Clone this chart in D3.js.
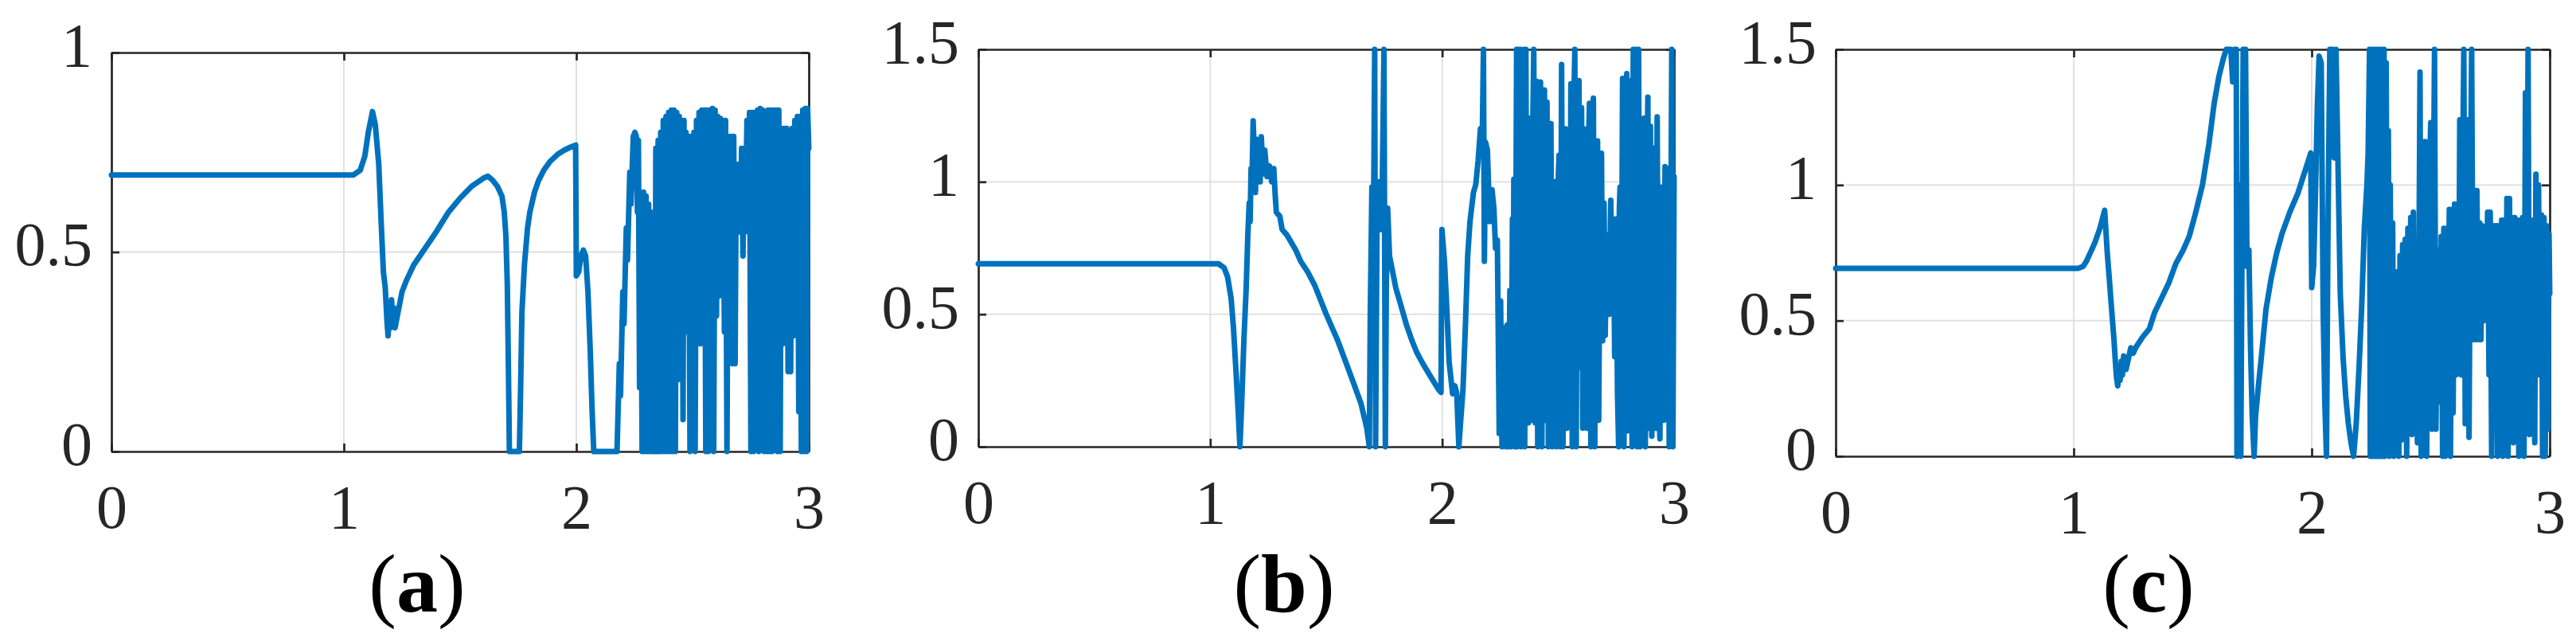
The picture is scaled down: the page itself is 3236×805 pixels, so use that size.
<!DOCTYPE html>
<html><head><meta charset="utf-8">
<script src="https://cdn.jsdelivr.net/npm/d3@7"></script>
<style>html,body{margin:0;padding:0;background:#fff;}</style>
</head><body>
<script>
// ---------- data ----------
const xTicks = [0, 1, 2, 3];
const yTicksA = [0, 0.5, 1];
const yTicksB = [0, 0.5, 1, 1.5];
const yTicksC = [0, 0.5, 1, 1.5];
const panelLabels = ["a", "b", "c"];

const seriesA = [
[0,0.693],[1.04,0.693],[1.07,0.705],[1.09,0.74],[1.105,0.8],[1.123,0.852],[1.135,0.82],[1.15,0.72],[1.16,0.58],[1.17,0.45],[1.178,0.41],[1.185,0.33],[1.19,0.29],[1.195,0.33],[1.2,0.31],[1.205,0.38],[1.21,0.33],[1.215,0.36],[1.22,0.31],[1.23,0.34],[1.24,0.37],[1.25,0.4],[1.27,0.43],[1.3,0.467],[1.35,0.51],[1.4,0.553],[1.45,0.6],[1.5,0.635],[1.55,0.665],[1.6,0.685],[1.62,0.69],[1.64,0.68],[1.66,0.665],[1.68,0.64],[1.69,0.6],[1.697,0.54],[1.703,0.42],[1.708,0.2],[1.712,0],[1.755,0],[1.76,0.15],[1.766,0.35],[1.777,0.47],[1.79,0.56],[1.8,0.6],[1.82,0.65],[1.838,0.68],[1.86,0.705],[1.887,0.727],[1.92,0.745],[1.947,0.755],[1.975,0.763],[1.997,0.768],[2.0,0.44],[2.01,0.45],[2.02,0.49],[2.03,0.505],[2.04,0.49],[2.05,0.4],[2.06,0.25],[2.068,0.1],[2.075,0],[2.175,0],
[2.185,0.22],[2.19,0.14],[2.2,0.4],[2.205,0.32],[2.215,0.56],[2.22,0.48],[2.23,0.7],[2.235,0.62],[2.245,0.79],[2.252,0.8],[2.258,0.79],[2.263,0.6],[2.267,0.78],[2.272,0.16],[2.277,0.64],[2.283,0],[2.289,0.65],[2.295,0],[2.3,0.64],[2.306,0],[2.311,0.62],[2.317,0],[2.322,0.6],[2.328,0],[2.333,0.45],[2.338,0],[2.342,0.76],[2.347,0],[2.352,0.78],[2.357,0],[2.363,0.8],[2.368,0],[2.374,0.83],[2.379,0],[2.386,0.84],[2.391,0],[2.397,0.85],[2.403,0],[2.409,0.856],[2.414,0],[2.42,0.856],[2.426,0],[2.432,0.85],[2.437,0.18],[2.443,0.84],[2.449,0.4],[2.454,0.83],[2.459,0.08],[2.463,0.83],[2.468,0.5],[2.472,0.8],[2.477,0.3],[2.483,0.79],[2.489,0],[2.494,0.79],[2.5,0.4],[2.506,0.8],[2.511,0],[2.517,0.83],[2.523,0.5],[2.528,0.85],[2.534,0.27],[2.54,0.856],[2.546,0.5],[2.551,0.856],[2.557,0],[2.562,0.856],[2.568,0],[2.574,0.856],[2.58,0.45],[2.586,0.86],[2.591,0],[2.597,0.856],[2.603,0.34],[2.608,0.84],[2.614,0.39],[2.62,0.835],[2.626,0.5],[2.631,0.83],[2.637,0.3],[2.642,0.83],[2.648,0],[2.654,0.79],[2.66,0.45],[2.665,0.79],[2.671,0.22],[2.677,0.79],[2.683,0.22],[2.688,0.72],[2.694,0.55],[2.7,0.72],[2.706,0.55],[2.711,0.76],[2.717,0.49],[2.722,0.76],[2.728,0.6],[2.734,0.83],[2.74,0.55],[2.745,0.85],[2.751,0],[2.757,0.85],[2.763,0],[2.768,0.85],[2.774,0.5],[2.78,0.856],[2.785,0],[2.791,0.86],[2.797,0.14],[2.802,0.856],[2.808,0],[2.814,0.83],[2.82,0],[2.825,0.856],[2.831,0],[2.837,0.856],[2.842,0],[2.848,0.856],[2.854,0.4],[2.86,0.856],[2.865,0],[2.871,0.856],[2.877,0],[2.882,0.81],[2.888,0.27],[2.894,0.81],[2.9,0.45],[2.905,0.81],[2.911,0.2],[2.916,0.79],[2.922,0.2],[2.928,0.81],[2.934,0.29],[2.94,0.83],[2.945,0.5],[2.951,0.84],[2.957,0.1],[2.962,0.84],[2.968,0],[2.974,0.856],[2.979,0],[2.985,0.86],[2.991,0],[2.995,0.86],[3.0,0.76]
];

const seriesB = [
[0,0.691],[1.035,0.691],[1.06,0.675],[1.075,0.64],[1.09,0.56],[1.1,0.45],[1.11,0.3],[1.12,0.14],[1.128,0],[1.135,0.15],[1.145,0.4],[1.155,0.6],[1.162,0.8],[1.168,0.92],[1.172,0.85],[1.176,1.05],[1.18,1.0],[1.185,1.23],[1.19,1.1],[1.195,0.96],[1.2,1.16],[1.205,1.05],[1.21,1.15],[1.215,1.0],[1.22,1.17],[1.228,1.03],[1.235,1.12],[1.245,1.02],[1.255,1.06],[1.265,1.0],[1.274,1.05],[1.28,0.95],[1.285,0.885],[1.3,0.87],[1.31,0.82],[1.33,0.8],[1.35,0.77],[1.37,0.74],[1.39,0.7],[1.42,0.66],[1.45,0.61],[1.5,0.5],[1.55,0.4],[1.58,0.33],[1.62,0.235],[1.65,0.163],[1.675,0.07],[1.686,0],
[1.69,0.5],[1.697,0.98],[1.703,0.7],[1.709,1.5],[1.713,0],[1.72,0.98],[1.727,1.0],[1.735,0.82],[1.742,1.0],[1.749,1.5],[1.755,0],[1.759,0.6],[1.765,0.9],[1.773,0.72],[1.8,0.6],[1.82,0.54],[1.846,0.46],[1.87,0.4],[1.89,0.357],[1.915,0.316],[1.95,0.265],[1.985,0.215],[1.995,0.205],[1.999,0.82],[2.01,0.7],[2.02,0.52],[2.03,0.32],[2.045,0.2],[2.055,0.23],[2.063,0.2],[2.072,0],[2.08,0.1],[2.09,0.22],[2.1,0.45],[2.11,0.72],[2.12,0.85],[2.135,0.96],[2.145,0.99],[2.155,1.08],[2.165,1.2],[2.172,1.1],[2.178,1.5],[2.182,0.7],[2.187,1.15],[2.195,1.12],[2.205,0.85],[2.215,0.97],[2.223,0.9],[2.23,0.75],[2.238,0.78],[2.246,0.05],
[2.252,0.55],[2.258,0],[2.266,0.45],[2.275,0],[2.281,0.46],[2.286,0],[2.292,0.59],[2.297,0],[2.303,0.86],[2.306,0.2],[2.309,1.01],[2.314,0],[2.321,1.5],[2.324,0],[2.328,1.5],[2.332,0.3],[2.336,1.5],[2.34,0],[2.344,1.2],[2.348,0.1],[2.352,1.5],[2.356,0],[2.361,1.5],[2.366,0.3],[2.372,0.09],[2.378,1.24],[2.383,0.1],[2.389,1.1],[2.395,1.5],[2.401,0.09],[2.407,1.38],[2.412,0],[2.418,1.0],[2.424,1.377],[2.43,0],[2.436,1.2],[2.441,1.347],[2.447,0.1],[2.452,1.301],[2.458,0],[2.463,1.1],[2.469,1.22],[2.475,0],[2.481,0.9],[2.487,1.0],[2.492,0],[2.498,0.95],[2.504,1.1],[2.509,0],[2.515,1.443],[2.521,0],[2.526,1.0],[2.532,1.2],[2.538,0.07],[2.544,1.1],[2.55,0.3],[2.555,1.37],[2.561,0],[2.566,1.2],[2.572,1.5],[2.578,0],[2.584,1.2],[2.59,1.382],[2.596,0.3],[2.601,1.28],[2.606,0.07],[2.612,1.2],[2.618,1.174],[2.624,0.07],[2.63,1.1],[2.635,1.296],[2.641,0],[2.647,1.2],[2.652,1.316],[2.658,0],[2.664,1.0],[2.67,1.154],[2.675,0.1],[2.681,0.9],[2.687,1.108],[2.692,0.4],[2.698,0.92],[2.703,0.42],[2.71,0.8],[2.715,0.75],[2.72,0.5],[2.727,0.93],[2.733,0.62],[2.738,0.86],[2.744,0.34],[2.75,0.86],[2.756,0.2],[2.761,0],[2.764,0.9],[2.767,0.98],[2.772,0.3],[2.778,1.39],[2.784,0],[2.79,1.3],[2.796,1.408],[2.801,0.06],[2.807,1.3],[2.813,1.382],[2.819,0],[2.824,1.5],[2.83,0.2],[2.836,1.5],[2.841,0],[2.847,1.5],[2.853,0],[2.86,1.1],[2.87,1.24],[2.876,0],[2.882,1.0],[2.887,1.32],[2.892,0.07],[2.898,1.21],[2.904,0.04],[2.91,1.128],[2.916,0.3],[2.921,0.07],[2.927,1.245],[2.933,0.2],[2.939,0.03],[2.944,0.98],[2.95,0.3],[2.956,0.1],[2.961,1.057],[2.967,0.4],[2.973,1.05],[2.979,0],[2.985,0.6],[2.99,1.5],[2.995,0],[3.0,1.02]
];

const seriesC = [
[0,0.693],[1.019,0.693],[1.04,0.7],[1.054,0.72],[1.075,0.76],[1.09,0.79],[1.11,0.84],[1.13,0.907],[1.141,0.75],[1.15,0.65],[1.157,0.568],[1.169,0.433],[1.175,0.35],[1.18,0.29],[1.185,0.26],[1.19,0.32],[1.195,0.28],[1.2,0.35],[1.205,0.3],[1.21,0.37],[1.22,0.32],[1.23,0.36],[1.24,0.4],[1.25,0.38],[1.26,0.4],[1.29,0.44],[1.318,0.47],[1.34,0.53],[1.373,0.59],[1.4,0.64],[1.429,0.71],[1.46,0.76],[1.485,0.81],[1.51,0.89],[1.541,1.0],[1.568,1.15],[1.59,1.3],[1.61,1.4],[1.63,1.47],[1.641,1.5],
[1.66,1.5],[1.668,1.38],[1.676,1.5],[1.683,1.5],[1.686,0],[1.695,1.0],[1.702,0],[1.712,1.5],[1.722,1.5],[1.728,0.7],[1.736,0.76],[1.743,0.4],[1.75,0.15],[1.758,0],[1.764,0.146],[1.775,0.25],[1.786,0.344],[1.808,0.543],[1.831,0.662],[1.853,0.75],[1.875,0.82],[1.908,0.9],[1.942,0.97],[1.975,1.06],[1.996,1.118],[2.0,0.622],[2.008,0.7],[2.015,0.94],[2.024,1.3],[2.031,1.475],[2.04,1.45],[2.048,0.55],[2.055,0.2],[2.062,0],[2.068,0.8],[2.076,1.5],[2.088,1.5],[2.095,1.1],[2.102,1.5],[2.108,1.2],[2.114,0.9],[2.12,0.6],[2.132,0.36],[2.143,0.22],[2.154,0.12],[2.165,0.05],[2.176,0],[2.187,0.12],[2.199,0.33],[2.21,0.55],[2.221,0.84],[2.232,1.0],[2.237,1.118],
[2.243,1.5],[2.246,0],[2.25,1.5],[2.254,0],[2.259,1.5],[2.263,0],[2.268,1.5],[2.272,0],[2.277,1.5],[2.281,0],[2.286,1.5],[2.29,0],[2.295,1.5],[2.299,0],[2.304,1.5],[2.308,0],[2.313,1.45],[2.317,0.1],[2.322,1.2],[2.326,0],[2.33,1.0],[2.335,0.04],[2.34,0.86],[2.345,0],[2.35,0.62],[2.355,0.1],[2.36,0.68],[2.366,0],[2.371,0.74],[2.377,0.06],[2.382,0.78],[2.388,0.1],[2.393,0.8],[2.399,0],[2.404,0.84],[2.41,0.2],[2.416,0.88],[2.421,0.08],[2.427,0.9],[2.432,0.12],
[2.438,0.75],[2.444,0.05],[2.45,0.62],[2.455,1.416],[2.46,0],[2.466,0.8],[2.472,0.1],[2.477,1.16],[2.483,0],[2.489,0.9],[2.494,1.0],[2.5,1.23],[2.505,0.1],[2.511,0.9],[2.516,1.5],[2.522,0.1],[2.528,0.76],[2.533,0.76],[2.539,0.2],[2.544,0.81],[2.55,0],[2.555,0.84],[2.561,0],[2.567,0.84],[2.572,0.16],[2.578,0.91],[2.583,0],[2.589,0.91],[2.594,0.16],[2.6,0.93],[2.606,0.3],[2.611,0.93],[2.617,0.32],[2.622,1.24],[2.628,0.3],[2.633,0.95],[2.639,1.5],[2.645,0.12],[2.65,1.0],[2.656,1.24],[2.661,0.07],[2.667,1.0],[2.672,1.5],[2.678,0.43],[2.684,0.9],[2.689,0.43],[2.694,0.98],[2.7,0.43],[2.706,0.86],[2.711,0.43],[2.716,0.85],[2.722,0.5],[2.728,0.8],[2.733,0.52],[2.739,0.9],[2.745,0.3],[2.75,0.9],[2.756,0],
[2.764,0.85],[2.77,0.3],[2.776,0.85],[2.781,0],[2.787,0.85],[2.792,0.2],[2.798,0.87],[2.803,0],[2.809,0.87],[2.814,0.2],[2.82,0.95],[2.825,0],[2.831,0.95],[2.836,0.3],[2.842,0.88],[2.847,0.05],[2.853,0.88],[2.858,0.2],[2.864,0.87],[2.87,0],[2.875,0.87],[2.881,0.35],[2.886,0.88],[2.892,0],[2.898,1.34],[2.903,0.18],[2.909,1.5],[2.915,0.08],[2.92,0.87],[2.926,0.2],[2.931,0.87],[2.937,0.05],[2.942,1.04],[2.948,0.3],[2.953,1.0],[2.959,0.3],[2.965,0.89],[2.97,0],[2.976,0.88],[2.981,0],[2.987,0.85],[2.992,0.1],[2.997,0.82],[3.0,0.6]
];

// ---------- layout ----------
const layouts = [
  {left:140,  right:1016, top:66, bottom:567, labelX:524},
  {left:1229, right:2103, top:62, bottom:561, labelX:1613},
  {left:2306, right:3203, top:62, bottom:573, labelX:2699}
];
const panels = [
  {data:seriesA, yMax:1,   yTicks:yTicksA},
  {data:seriesB, yMax:1.5, yTicks:yTicksB},
  {data:seriesC, yMax:1.5, yTicks:yTicksC}
];
const FONT = '"Liberation Serif","Times New Roman",serif';
const AX = '#262626';

const svg = d3.select('body').append('svg')
  .attr('width', 3236).attr('height', 805)
  .style('display','block').style('background','#fff');

const fmt = d => String(d);

panels.forEach((p, i) => {
  const L = layouts[i];
  const x = d3.scaleLinear().domain([0, 3]).range([L.left, L.right]);
  const y = d3.scaleLinear().domain([0, p.yMax]).range([L.bottom, L.top]);
  const g = svg.append('g');

  // grid
  g.append('g').selectAll('line').data(xTicks.filter(t => t > 0 && t < 3)).join('line')
    .attr('x1', d => x(d)).attr('x2', d => x(d)).attr('y1', L.top).attr('y2', L.bottom)
    .attr('stroke', '#dedede').attr('stroke-width', 1.8);
  g.append('g').selectAll('line').data(p.yTicks.filter(t => t > 0 && t < p.yMax)).join('line')
    .attr('y1', d => y(d)).attr('y2', d => y(d)).attr('x1', L.left).attr('x2', L.right)
    .attr('stroke', '#dedede').attr('stroke-width', 1.8);

  const styleAxis = sel => {
    sel.attr('font-size', 78).attr('font-family', FONT).style('color', AX);
    sel.select('.domain').attr('stroke-width', 2.7);
    sel.selectAll('.tick line').attr('stroke-width', 2.7);
  };

  const bottomAx = g.append('g').attr('transform', `translate(0,${L.bottom})`)
    .call(d3.axisBottom(x).tickValues(xTicks).tickSize(-10).tickSizeOuter(0).tickPadding(41).tickFormat(fmt));
  styleAxis(bottomAx);
  const topAx = g.append('g').attr('transform', `translate(0,${L.top})`)
    .call(d3.axisTop(x).tickValues(xTicks).tickSize(-10).tickSizeOuter(0).tickFormat(''));
  styleAxis(topAx);
  const leftAx = g.append('g').attr('transform', `translate(${L.left},0)`)
    .call(d3.axisLeft(y).tickValues(p.yTicks).tickSize(-10).tickSizeOuter(0).tickPadding(24).tickFormat(fmt));
  styleAxis(leftAx);
  leftAx.selectAll('text').attr('dy', '0.21em');
  const rightAx = g.append('g').attr('transform', `translate(${L.right},0)`)
    .call(d3.axisRight(y).tickValues(p.yTicks).tickSize(-10).tickSizeOuter(0).tickFormat(''));
  styleAxis(rightAx);

  // data line
  const line = d3.line()
    .x(d => x(d[0]))
    .y(d => y(Math.max(0, Math.min(p.yMax, d[1]))));
  g.append('path').datum(p.data)
    .attr('d', line)
    .attr('fill', 'none')
    .attr('stroke', '#0072BD')
    .attr('stroke-width', 7)
    .attr('stroke-linejoin', 'round')
    .attr('stroke-linecap', 'round');

  // panel label
  const t = g.append('text')
    .attr('x', L.labelX).attr('y', 768)
    .attr('text-anchor', 'middle')
    .attr('font-family', FONT).attr('font-size', 104).attr('fill', '#000');
  t.append('tspan').text('(');
  t.append('tspan').attr('font-weight', 'bold').text(panelLabels[i]);
  t.append('tspan').text(')');
});
</script>
</body></html>
